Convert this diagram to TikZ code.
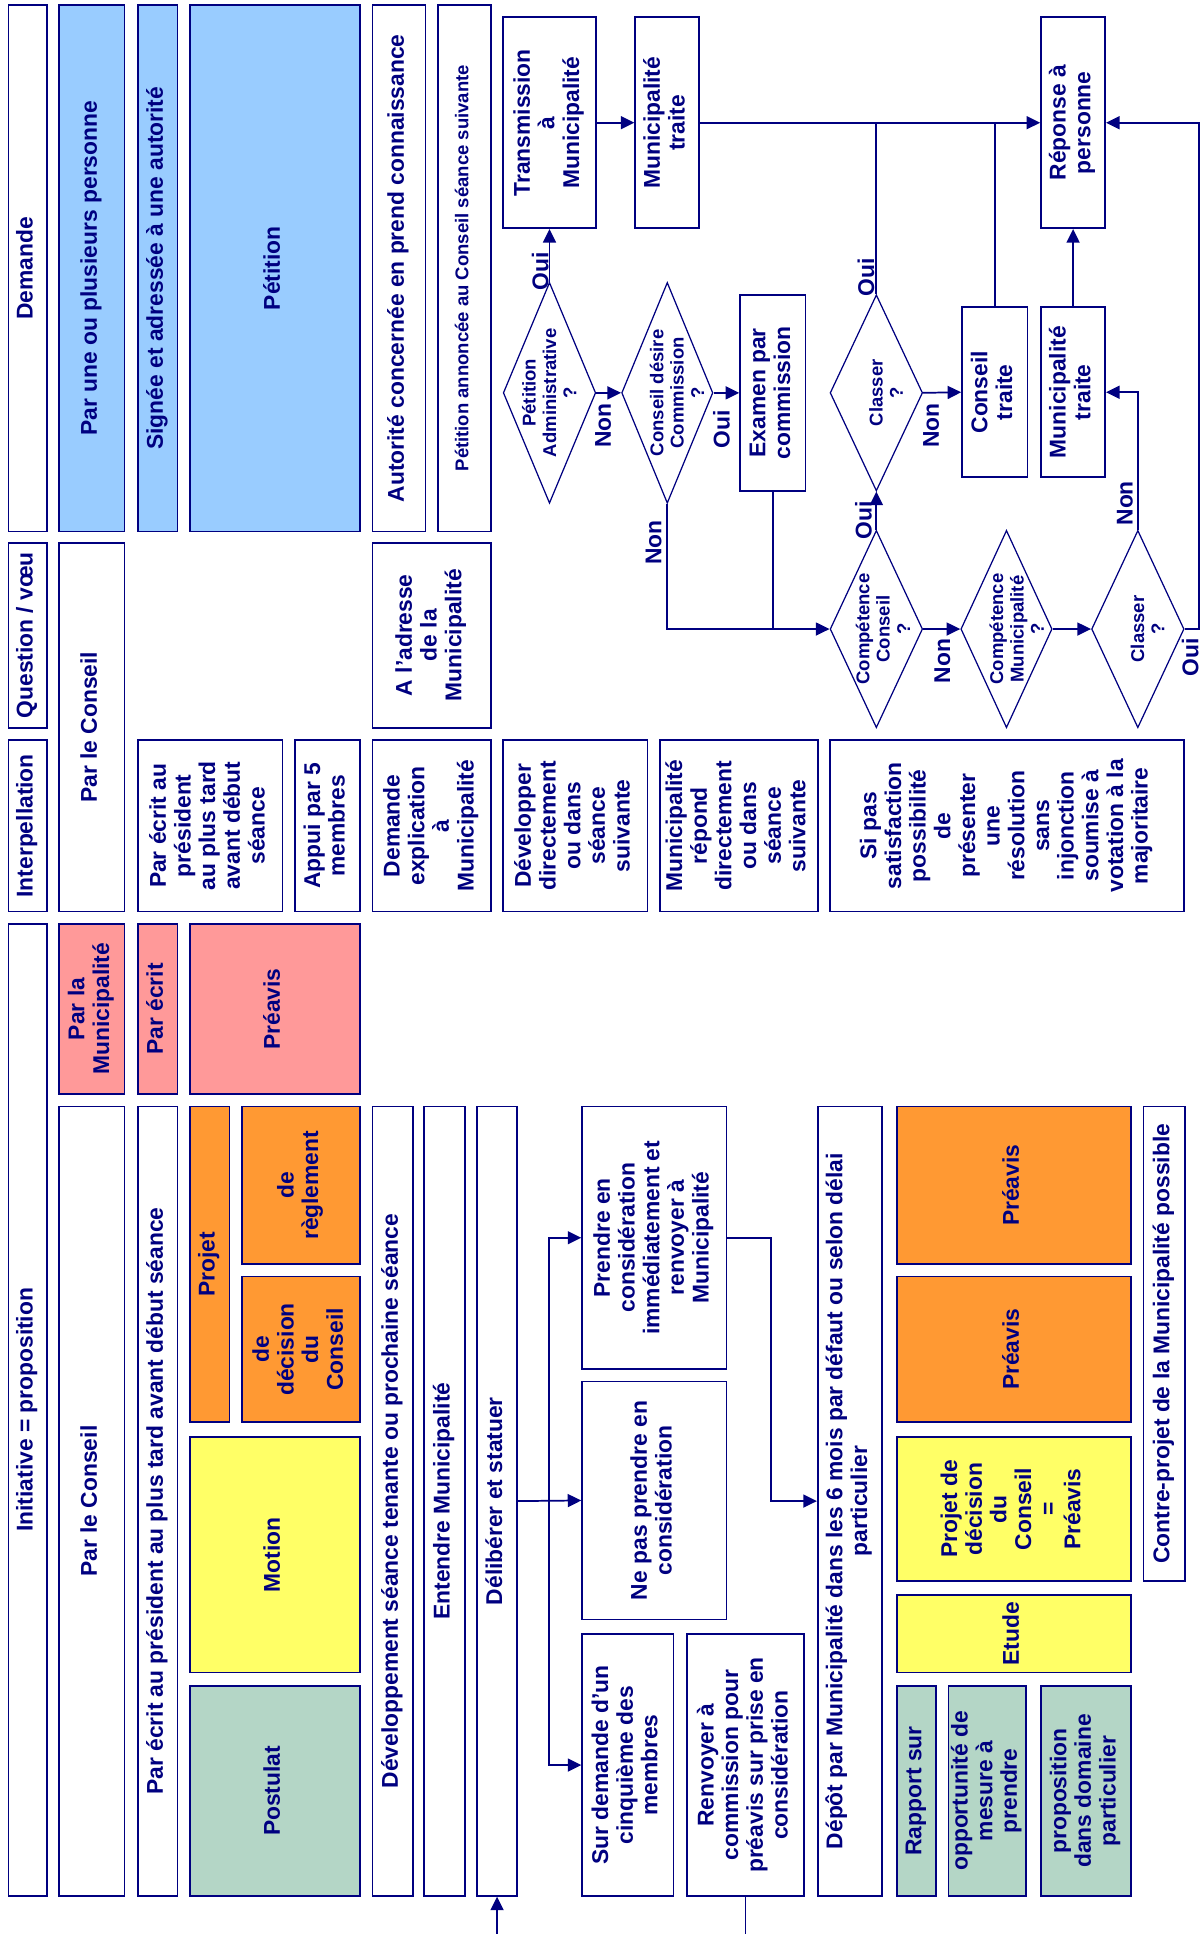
\documentclass[tikz,border=0pt]{standalone}
\usepackage{fontspec}
\setmainfont{Liberation Sans}
\usepackage{graphicx}
\usetikzlibrary{shapes.geometric,arrows.meta}
\definecolor{navy}{RGB}{0,0,128}
\definecolor{cblue}{HTML}{99CCFF}
\definecolor{cpink}{HTML}{FF9999}
\definecolor{corange}{HTML}{FF9933}
\definecolor{cyellow}{HTML}{FFFF66}
\definecolor{cgreen}{HTML}{B4D6C6}
\newcommand\rtx[1]{\rotatebox{90}{\begin{tabular}{@{}c@{}}#1\end{tabular}}}
\newcommand\mybox[7]{\node[box,#6,minimum width={#4-#2},minimum height={#5-#3}] (#1) at ({(#2+#4)/2},{-(#3+#5)/2}) {\rtx{#7}};}
\newcommand\mydia[7]{\node[dia,minimum width={#4-#2},minimum height={#5-#3}] (#1) at ({(#2+#4)/2},{-(#3+#5)/2}) {};
  \node[dtext,xshift=#7] (#1t) at (#1.center) {\rtx{#6}};}
\tikzset{
  box/.style={draw=navy,line width=1.4pt,rectangle,inner sep=0pt,text=navy,font=\fontsize{18.5}{20}\selectfont\bfseries},
  smalltext/.style={font=\fontsize{15}{16.5}\selectfont\bfseries},
  fillwhite/.style={fill=white},
  fillblue/.style={fill=cblue},
  fillpink/.style={fill=cpink},
  fillorange/.style={fill=corange},
  fillyellow/.style={fill=cyellow},
  fillgreen/.style={fill=cgreen},
  dia/.style={draw=navy,line width=1.0pt,shape=diamond,inner sep=0pt,fill=white},
  dtext/.style={inner sep=0pt,text=navy,font=\fontsize{15}{16.5}\selectfont\bfseries},
  lbl/.style={rotate=90,inner sep=0pt,text=navy,font=\fontsize{18.5}{20}\selectfont\bfseries},
  conn/.style={draw=navy,line width=1.4pt},
  arr/.style={conn,-{Triangle[length=11pt,width=10.5pt]}}
}
\begin{document}
\begin{tikzpicture}[x=1pt,y=1pt]
\useasboundingbox[fill=white] (0,0) rectangle (975,-1568);
% ---- top: Demande
\mybox{dem}{7}{4}{38}{431}{fillwhite}{Demande}
\mybox{pers}{48}{4}{101}{431}{fillblue}{Par une ou plusieurs personne}
\mybox{sign}{112}{4}{144}{431}{fillblue}{Signée et adressée à une autorité}
\mybox{pet}{154}{4}{292}{431}{fillblue}{Pétition}
\mybox{auto}{302}{4}{345}{431}{fillwhite}{Autorité concernée en prend connaissance}
\mybox{annon}{355}{4}{398}{431}{fillwhite,smalltext}{Pétition annoncée au Conseil séance suivante}
% ---- flowchart
\mybox{trans}{408}{14}{483}{185}{fillwhite}{Transmission\\à\\Municipalité}
\mybox{mt1}{515}{14}{567}{185}{fillwhite}{Municipalité\\traite}
\mybox{rep}{844}{14}{896}{185}{fillwhite}{Réponse à\\personne}
\mydia{pa}{408}{229}{483}{408}{Pétition\\Administrative\\?}{2pt}
\mydia{cd}{504}{229}{578}{408}{Conseil désire\\Commission\\?}{10pt}
\mybox{exam}{600}{239}{653}{398}{fillwhite}{Examen par\\commission}
\mydia{cla}{673}{239}{748}{398}{Classer\\?}{10pt}
\mybox{ct}{780}{249}{833}{387}{fillwhite}{Conseil\\traite}
\mybox{mt2}{844}{249}{896}{387}{fillwhite}{Municipalité\\traite}
\mydia{cc}{673}{430}{748}{590}{Compétence\\Conseil\\?}{7.5pt}
\mydia{cm}{779}{430}{853}{590}{Compétence\\Municipalité\\?}{10.5pt}
\mydia{clb}{885}{430}{960}{590}{Classer\\?}{10pt}
% ---- middle
\mybox{quest}{7}{440}{38}{590}{fillwhite}{Question / vœu}
\mybox{plc}{48}{440}{101}{739}{fillwhite}{Par le Conseil}
\mybox{adr}{302}{440}{398}{590}{fillwhite}{A l’adresse\\de la\\Municipalité}
\mybox{interp}{7}{600}{38}{739}{fillwhite}{Interpellation}
\mybox{ecrit}{112}{600}{229}{739}{fillwhite}{Par écrit au\\président\\au plus tard\\avant début\\séance}
\mybox{appui}{239}{600}{292}{739}{fillwhite}{Appui par 5\\membres}
\mybox{expl}{302}{600}{398}{739}{fillwhite}{Demande\\explication\\à\\Municipalité}
\mybox{dev}{408}{600}{525}{739}{fillwhite}{Développer\\directement\\ou dans\\séance\\suivante}
\mybox{repond}{535}{600}{663}{739}{fillwhite}{Municipalité\\répond\\directement\\ou dans\\séance\\suivante}
\mybox{sipas}{673}{600}{960}{739}{fillwhite}{Si pas\\satisfaction\\possibilité\\de\\présenter\\une\\résolution\\sans\\injonction\\soumise à\\votation à la\\majoritaire}
% ---- bottom
\mybox{init}{7}{749}{38}{1537}{fillwhite}{Initiative = proposition}
\mybox{plm}{48}{749}{101}{887}{fillpink}{Par la\\Municipalité}
\mybox{pe}{112}{749}{144}{887}{fillpink}{Par écrit}
\mybox{prv}{154}{749}{292}{887}{fillpink}{Préavis}
\mybox{plcb}{48}{897}{101}{1537}{fillwhite}{Par le Conseil}
\mybox{ecritb}{112}{897}{144}{1537}{fillwhite}{Par écrit au président au plus tard avant début séance}
\mybox{proj}{154}{897}{186}{1153}{fillorange}{Projet}
\mybox{regl}{196}{897}{292}{1025}{fillorange}{de\\règlement}
\mybox{dec}{196}{1035}{292}{1153}{fillorange}{de\\décision\\du\\Conseil}
\mybox{motion}{154}{1165}{292}{1356}{fillyellow}{Motion}
\mybox{post}{154}{1367}{292}{1537}{fillgreen}{Postulat}
\mybox{devel}{302}{897}{335}{1537}{fillwhite}{Développement séance tenante ou prochaine séance}
\mybox{ent}{344}{897}{377}{1537}{fillwhite}{Entendre Municipalité}
\mybox{delib}{387}{897}{419}{1537}{fillwhite}{Délibérer et statuer}
\mybox{prendre}{472}{897}{589}{1110}{fillwhite}{Prendre en\\considération\\immédiatement et\\renvoyer à\\Municipalité}
\mybox{nepas}{472}{1120}{589}{1313}{fillwhite}{Ne pas prendre en\\considération}
\mybox{surdem}{472}{1325}{546}{1537}{fillwhite}{Sur demande d’un\\cinquième des\\membres}
\mybox{renv}{557}{1325}{652}{1537}{fillwhite}{Renvoyer à\\commission pour\\préavis sur prise en\\considération}
\mybox{depot}{663}{897}{715}{1537}{fillwhite}{Dépôt par Municipalité dans les 6 mois par défaut ou selon délai\\particulier}
\mybox{prvb}{727}{897}{917}{1025}{fillorange}{Préavis}
\mybox{prvc}{727}{1035}{917}{1153}{fillorange}{Préavis}
\mybox{pdc}{727}{1165}{917}{1282}{fillyellow}{Projet de\\décision\\du\\Conseil\\=\\Préavis}
\mybox{etude}{727}{1293}{917}{1356}{fillyellow}{Etude}
\mybox{rapp}{727}{1367}{759}{1537}{fillgreen}{Rapport sur}
\mybox{opp}{769}{1367}{832}{1537}{fillgreen}{opportunité de\\mesure à\\prendre}
\mybox{prop}{844}{1367}{917}{1537}{fillgreen}{proposition\\dans domaine\\particulier}
\mybox{contre}{927}{897}{961}{1282}{fillwhite}{Contre-projet de la Municipalité possible}
% ---- connectors top
\draw[arr] (pa.north) -- (trans.south);
\draw[arr] (pa.east) -- (cd.west);
\draw[arr] (cd.east) -- (exam.west);
\draw[arr] (cd.south) |- (cc.west);
\draw[conn] (exam.south) -- (exam.south |- cc.west);
\draw[arr] (trans.east) -- (mt1.west);
\draw[arr] (mt1.east) -- (rep.west);
\draw[conn] (cla.north) -- (cla.north |- rep.west);
\draw[arr] (cla.east) -- (ct.west);
\draw[conn] (ct.north) -- (ct.north |- rep.west);
\draw[arr] (mt2.north) -- (rep.south);
\draw[arr] (cc.north) -- (cla.south);
\draw[arr] (cc.east) -- (cm.west);
\draw[arr] (cm.east) -- (clb.west);
\draw[arr] (clb.north) |- (mt2.east);
\coordinate (rtop) at (972,-99.5);
\draw[arr] (clb.east) -| (rtop) -- (rep.east);
% ---- labels
\node[lbl] (l1) at (438,-220) {Oui};
\node[lbl] (l2) at (489,-345) {Non};
\node[lbl] (l3) at (585,-348) {Oui};
\node[lbl] (l4) at (530,-440) {Non};
\node[lbl] (l5) at (702,-225) {Oui};
\node[lbl] (l6) at (755,-345) {Non};
\node[lbl] (l7) at (700,-422) {Oui};
\node[lbl] (l8) at (764,-536) {Non};
\node[lbl] (l9) at (912,-408) {Non};
\node[lbl] (l10) at (965,-533) {Oui};
% ---- connectors bottom
\coordinate (bin) at (403,-1568);
\draw[arr] (bin) -- (delib.south);
\draw[arr] (delib.east) -- (nepas.west);
\coordinate (jx) at (445,-1217);
\draw[arr] (jx) |- (prendre.west);
\draw[arr] (jx) |- (surdem.west);
\coordinate (px) at (625,-1003.5);
\draw[arr] (prendre.east) -- (px) |- (depot.west);
\coordinate (rb) at (604.5,-1568);
\draw[conn] (renv.south) -- (rb);
\end{tikzpicture}
\end{document}
